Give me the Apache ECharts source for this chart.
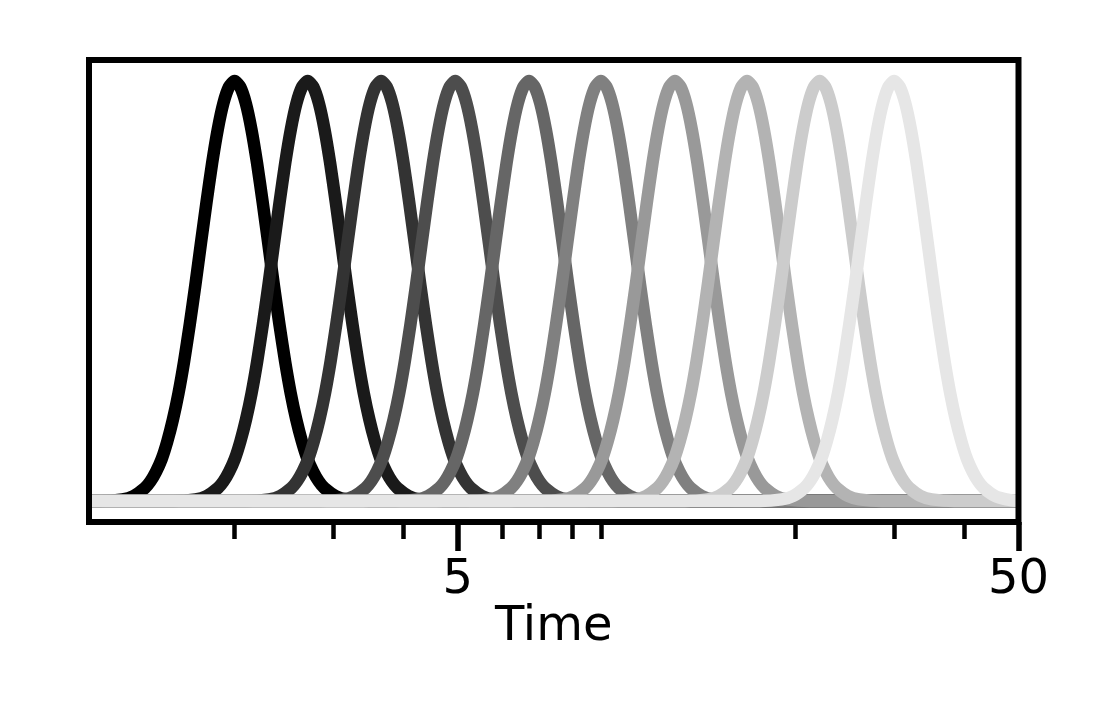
<!DOCTYPE html>
<html>
<head>
<meta charset="utf-8">
<title>Time</title>
<script src="https://cdn.jsdelivr.net/npm/echarts@6/dist/echarts.min.js"></script>
<style>
  html, body { margin: 0; padding: 0; background: #fff; }
  #main { width: 1108px; height: 711px; }
</style>
</head>
<body>
<div id="main"></div>
<script>
// peak time of each pulse
const peakTimes = [2.0, 2.7, 3.65, 4.95, 6.7, 9.0, 12.2, 16.4, 22.1, 30.0]

// shape of one pulse: distance from its peak in decades, and height
const bumpOffsets = [-0.24, -0.20, -0.18, -0.16, -0.15, -0.14, -0.13, -0.12, -0.11, -0.10, -0.09, -0.08, -0.07, -0.06, -0.05, -0.04, -0.03, -0.02, -0.01,
  0, 0.01, 0.02, 0.03, 0.04, 0.05, 0.06, 0.07, 0.08, 0.09, 0.10, 0.11, 0.12, 0.13, 0.14, 0.15, 0.16, 0.18, 0.20, 0.24]
const bumpHeights = [0, 0.004, 0.012, 0.031, 0.047, 0.07, 0.10, 0.142, 0.194, 0.257, 0.333, 0.42, 0.514, 0.614, 0.712, 0.805, 0.885, 0.947, 0.986,
  1, 0.986, 0.947, 0.885, 0.805, 0.712, 0.614, 0.514, 0.42, 0.333, 0.257, 0.194, 0.142, 0.10, 0.07, 0.047, 0.031, 0.012, 0.004, 0]

const timeRange = [1.1, 50]
const majorTicks = [5, 50]
const minorTicks = [2, 3, 4, 6, 7, 8, 9, 20, 30, 40]

const lineColors = ['#000000', '#1a1a1a', '#333333', '#4d4d4d', '#666666', '#808080', '#999999', '#b3b3b3', '#cccccc', '#e6e6e6']

const font = 'DejaVu Sans'

// one series per pulse, flat at zero across the whole axis
const series = peakTimes.map((peak, i) => {
  const pts = [[timeRange[0], 0]]
  bumpOffsets.forEach((off, k) => {
    const t = peak * Math.pow(10, off)
    if (t > timeRange[0] && t < timeRange[1]) pts.push([t, bumpHeights[k]])
  })
  pts.push([timeRange[1], 0])
  return {
    type: 'line',
    data: pts,
    showSymbol: false,
    smooth: 0.2,
    xAxisIndex: 0,
    lineStyle: { color: lineColors[i], width: 12.5, join: 'round', cap: 'butt' },
    silent: true
  }
})

const chart = echarts.init(document.getElementById('main'), null, { renderer: 'canvas' })

const option = {
  animation: false,
  backgroundColor: '#ffffff',
  grid: {
    show: true,
    z: 5,
    left: 89,
    right: 89.5,
    top: 60,
    bottom: 189,
    borderColor: '#000',
    borderWidth: 6,
    backgroundColor: 'transparent'
  },
  xAxis: [
    {
      type: 'log',
      logBase: 10,
      min: timeRange[0],
      max: timeRange[1],
      name: 'Time',
      nameLocation: 'middle',
      nameGap: 82,
      nameMoveOverlap: false,
      nameTextStyle: { fontFamily: font, fontSize: 48, color: '#000' },
      axisLine: { show: false, onZero: false },
      splitLine: { show: false },
      minorTick: { show: false },
      axisTick: {
        show: true,
        inside: false,
        length: 29,
        customValues: majorTicks,
        lineStyle: { color: '#000', width: 5.5 }
      },
      axisLabel: {
        show: true,
        customValues: majorTicks,
        margin: 35,
        fontFamily: font,
        fontSize: 48,
        color: '#000',
        formatter: v => String(Math.round(v))
      }
    },
    {
      type: 'log',
      logBase: 10,
      min: timeRange[0],
      max: timeRange[1],
      position: 'bottom',
      axisLine: { show: false, onZero: false },
      splitLine: { show: false },
      minorTick: { show: false },
      axisLabel: { show: false },
      axisTick: {
        show: true,
        inside: false,
        length: 17,
        customValues: minorTicks,
        lineStyle: { color: '#000', width: 4.5 }
      }
    }
  ],
  yAxis: {
    type: 'value',
    min: -0.05,
    max: 1.05,
    axisLine: { show: false },
    axisTick: { show: false },
    axisLabel: { show: false },
    splitLine: { show: false }
  },
  series: series
}

chart.setOption(option)
</script>
</body>
</html>
